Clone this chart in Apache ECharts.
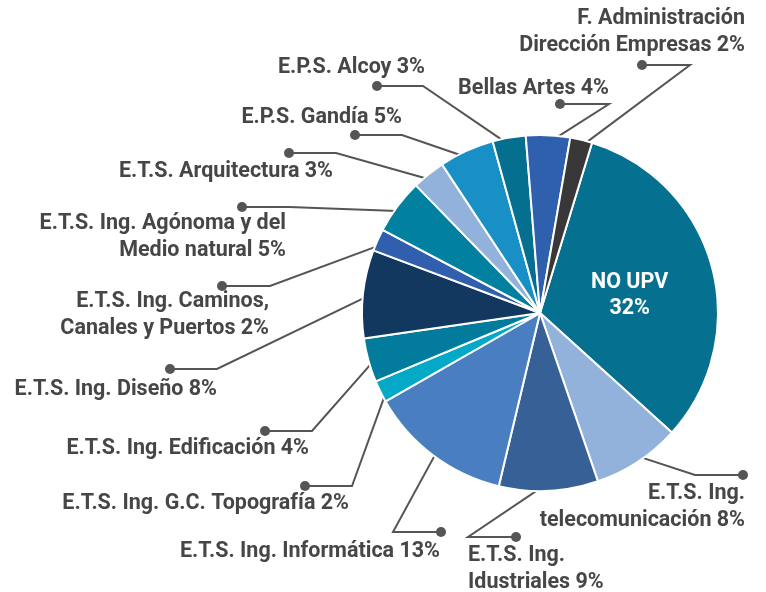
<!DOCTYPE html>
<html>
<head>
<meta charset="utf-8">
<script src="https://cdn.jsdelivr.net/npm/echarts@6/dist/echarts.min.js"></script>
<style>
  html, body { margin: 0; padding: 0; background: #fff; }
  #chart { width: 766px; height: 592px; }
</style>
</head>
<body>
<div id="chart"></div>
<script>
// datos (en orden horario desde NO UPV)
const names = [
  'NO UPV',
  'E.T.S. Ing.\ntelecomunicación',
  'E.T.S. Ing.\nIdustriales',
  'E.T.S. Ing. Informática',
  'E.T.S. Ing. G.C. Topografía',
  'E.T.S. Ing. Edificación',
  'E.T.S. Ing. Diseño',
  'E.T.S. Ing. Caminos,\nCanales y Puertos',
  'E.T.S. Ing. Agónoma y del\nMedio natural',
  'E.T.S. Arquitectura',
  'E.P.S. Gandía',
  'E.P.S. Alcoy',
  'Bellas Artes',
  'F. Administración\nDirección Empresas'
];
const values = [32, 8, 9, 13, 2, 4, 8, 2, 5, 3, 5, 3, 4, 2];

const colors = [
  '#05708f', '#93b2db', '#376096', '#497fc0', '#04a9c7', '#037b9c', '#13385f',
  '#2f5fad', '#01809f', '#93b2db', '#1890c5', '#046f8e', '#2e60ae', '#383838'
];

// posicion de etiquetas: texto (tx, ty, align), codo (ex) y punto (dx, dy)
const layout = [
  null,
  { tx: 745, ty: 507, align: 'right', ex: 695, dx: 743, dy: 475 },
  { tx: 468, ty: 569, align: 'left', ex: 468, dx: 516, dy: 537 },
  { tx: 440, ty: 552, align: 'right', ex: 393, dx: 441, dy: 532 },
  { tx: 349, ty: 504, align: 'right', ex: 352, dx: 305, dy: 486 },
  { tx: 309, ty: 449, align: 'right', ex: 312, dx: 265, dy: 431 },
  { tx: 217, ty: 390, align: 'right', ex: 217, dx: 170, dy: 369 },
  { tx: 269, ty: 315, align: 'right', ex: 270, dx: 222, dy: 286 },
  { tx: 286, ty: 237, align: 'right', ex: 289, dx: 242, dy: 207 },
  { tx: 333, ty: 172, align: 'right', ex: 336, dx: 289, dy: 153 },
  { tx: 402, ty: 118, align: 'right', ex: 402, dx: 355, dy: 135 },
  { tx: 425, ty: 68, align: 'right', ex: 423, dx: 377, dy: 86 },
  { tx: 609, ty: 89, align: 'right', ex: 609, dx: 560, dy: 104 },
  { tx: 745, ty: 32, align: 'right', ex: 690, dx: 642, dy: 65 }
];

const CX = 540, CY = 313, R = 178;

const chart = echarts.init(document.getElementById('chart'));

const data = names.map((n, i) => {
  const item = { name: n, value: values[i], itemStyle: { color: colors[i] } };
  if (i === 0) {
    item.label = { position: 'inside', color: '#fff', formatter: '{b}\n{c}%', lineHeight: 26 };
    item.labelLine = { show: false };
  }
  return item;
});

chart.setOption({
  animation: false,
  series: [{
    type: 'pie',
    center: [CX, CY],
    radius: R,
    startAngle: 73,
    avoidLabelOverlap: false,
    itemStyle: { borderColor: '#fff', borderWidth: 2 },
    label: {
      show: true,
      position: 'outside',
      color: '#464646',
      fontFamily: 'Roboto',
      fontWeight: 'bold',
      fontSize: 21.5,
      lineHeight: 27,
      formatter: p => p.name + ' ' + p.value + '%'
    },
    labelLine: { show: true, lineStyle: { color: '#555', width: 2 } },
    labelLayout: params => {
      const l = layout[params.dataIndex];
      if (!l) return { dx: 1, dy: 7 };
      const p0 = params.labelLinePoints ? params.labelLinePoints[0] : [CX, CY];
      const k = 170 / R;
      const start = [CX + (p0[0] - CX) * k, CY + (p0[1] - CY) * k];
      return {
        x: l.tx,
        y: l.ty,
        align: l.align,
        verticalAlign: 'middle',
        labelLinePoints: [start, [l.ex, l.dy], [l.dx, l.dy]]
      };
    },
    data: data
  }],
  graphic: layout.filter(l => l).map(l => ({
    type: 'circle',
    shape: { cx: l.dx, cy: l.dy, r: 5 },
    style: { fill: '#555' },
    z: 10
  }))
});
</script>
</body>
</html>
